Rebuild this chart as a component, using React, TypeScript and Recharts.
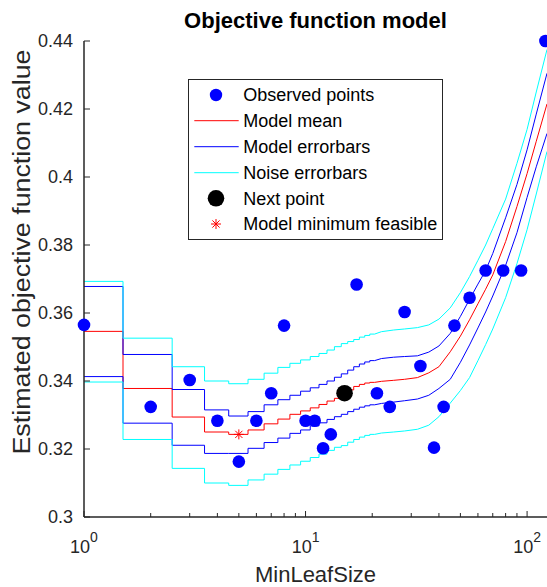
import React from 'react';
import { ComposedChart, Line, Scatter, XAxis, YAxis } from 'recharts';

const FONT = '"Liberation Sans", Arial, Helvetica, sans-serif';
const INK = '#262626';

// ---- model curves: integer MinLeafSize region (step-wise) ----
const stepX = [1, 2, 3, 4, 5, 6, 7, 8, 9, 10, 11, 12, 13, 14, 15, 16, 17, 18, 19, 20];
const stepMean = [0.3546, 0.3378, 0.3294, 0.325, 0.3243, 0.3256, 0.3274, 0.3288, 0.3302, 0.3312, 0.3321, 0.3331, 0.3341, 0.3349, 0.3362, 0.3374, 0.3384, 0.339, 0.3394, 0.3396];
const stepModelHi = [0.3678, 0.3478, 0.3375, 0.3315, 0.3297, 0.331, 0.333, 0.3345, 0.3358, 0.337, 0.338, 0.339, 0.34, 0.3411, 0.3421, 0.3432, 0.3442, 0.345, 0.3456, 0.346];
const stepModelLo = [0.3413, 0.3276, 0.3211, 0.3187, 0.3187, 0.3202, 0.3219, 0.3232, 0.3246, 0.3256, 0.3268, 0.3277, 0.3287, 0.3295, 0.3302, 0.331, 0.3317, 0.3323, 0.3327, 0.333];
const stepNoiseHi = [0.3693, 0.3526, 0.3442, 0.34, 0.3392, 0.3405, 0.3423, 0.344, 0.3452, 0.3462, 0.3472, 0.3481, 0.3491, 0.3501, 0.351, 0.3516, 0.3522, 0.3529, 0.3534, 0.3538];
const stepNoiseLo = [0.3397, 0.3228, 0.3143, 0.31, 0.3093, 0.3109, 0.3126, 0.314, 0.3153, 0.3164, 0.3175, 0.3185, 0.3196, 0.3205, 0.321, 0.322, 0.3228, 0.3235, 0.324, 0.3243];

// ---- model curves: smooth region ----
const knotX = [22, 25, 28, 32, 36, 40, 45, 50, 55, 60, 65, 70, 80, 90, 100, 110, 123];
const knotMean = [0.3399, 0.3402, 0.3405, 0.341, 0.3424, 0.3442, 0.3486, 0.3532, 0.358, 0.3627, 0.367, 0.3712, 0.381, 0.3913, 0.401, 0.4105, 0.4215];
const knotModelHi = [0.3466, 0.347, 0.3472, 0.3474, 0.3485, 0.3503, 0.354, 0.359, 0.364, 0.3685, 0.3725, 0.3775, 0.388, 0.3978, 0.408, 0.4185, 0.4305];
const knotModelLo = [0.3334, 0.3338, 0.3342, 0.3347, 0.3358, 0.3378, 0.3405, 0.3455, 0.3506, 0.3556, 0.3603, 0.365, 0.374, 0.3836, 0.394, 0.403, 0.4128];
const knotNoiseHi = [0.3545, 0.355, 0.3553, 0.3557, 0.3565, 0.3582, 0.3615, 0.366, 0.3707, 0.3755, 0.38, 0.3848, 0.3935, 0.404, 0.414, 0.425, 0.4375];
const knotNoiseLo = [0.3247, 0.325, 0.3253, 0.3258, 0.327, 0.3295, 0.3335, 0.3372, 0.341, 0.346, 0.3507, 0.3553, 0.3645, 0.3745, 0.3845, 0.395, 0.4075];

// ---- observed points ----
const obsX = [1, 2, 3, 4, 5, 6, 7, 8, 10, 11, 12, 13, 17, 21, 24, 28, 33, 38, 42, 47, 55, 65, 78, 94, 121];
const obsY = [0.3565, 0.3324, 0.3403, 0.3283, 0.3163, 0.3283, 0.3364, 0.3563, 0.3283, 0.3283, 0.3202, 0.3243, 0.3684, 0.3364, 0.3324, 0.3603, 0.3444, 0.3204, 0.3324, 0.3563, 0.3645, 0.3725, 0.3725, 0.3725, 0.44];
const nextX = [15];
const nextY = [0.3364];
const minX = [5];
const minY = [0.3243];

const xTicks = [1, 2, 3, 4, 5, 6, 7, 8, 9, 10, 20, 30, 40, 50, 60, 70, 80, 90, 100];
const yTicks = [0.3, 0.32, 0.34, 0.36, 0.38, 0.4, 0.42, 0.44];
const legendLabels = ['Observed points', 'Model mean', 'Model errorbars', 'Noise errorbars', 'Next point', 'Model minimum feasible'];

// ---- build tables ----
const curveRows: any[] = [];
stepX.forEach((n, i) => {
  const v = { mean: stepMean[i], mHi: stepModelHi[i], mLo: stepModelLo[i], nHi: stepNoiseHi[i], nLo: stepNoiseLo[i] };
  curveRows.push({ x: i === 0 ? n : n - 0.5, ...v });
  curveRows.push({ x: n + 0.5, ...v });
});
knotX.forEach((x, i) => {
  curveRows.push({ x, mean: knotMean[i], mHi: knotModelHi[i], mLo: knotModelLo[i], nHi: knotNoiseHi[i], nLo: knotNoiseLo[i] });
});
const obsRows = obsX.map((x, i) => ({ x, y: obsY[i] }));
const nextRows = nextX.map((x, i) => ({ x, y: nextY[i] }));
const minRows = minX.map((x, i) => ({ x, y: minY[i] }));

const W = 547;
const H = 587;
const LEFT = 84;
const TOP = 41;
const BOTTOM = 517;

const StarMark = ({ cx, cy, s = 5 }: any) => {
  const d = s * 0.72;
  return (
    <g stroke="#ff0000" strokeWidth={1}>
      <line x1={cx - s} y1={cy} x2={cx + s} y2={cy} />
      <line x1={cx} y1={cy - s} x2={cx} y2={cy + s} />
      <line x1={cx - d} y1={cy - d} x2={cx + d} y2={cy + d} />
      <line x1={cx - d} y1={cy + d} x2={cx + d} y2={cy - d} />
    </g>
  );
};

const XTick = (props: any) => {
  const { x, payload } = props;
  const lg = Math.log10(payload.value);
  const exp = Math.round(lg);
  const major = Math.abs(lg - exp) < 1e-9;
  return (
    <g>
      <line x1={x} x2={x} y1={BOTTOM} y2={BOTTOM - (major ? 6 : 4)} stroke={INK} strokeWidth={1} />
      {major && (
        <text x={x} y={553} textAnchor="middle" fontSize={18} fill={INK} fontFamily={FONT}>
          10<tspan dy={-11} fontSize={14}>{exp}</tspan>
        </text>
      )}
    </g>
  );
};

const YTick = (props: any) => {
  const { y, payload } = props;
  const label = String(Number(payload.value.toFixed(2)));
  return (
    <g>
      <line x1={LEFT} x2={LEFT + 6} y1={y} y2={y} stroke={INK} strokeWidth={1} />
      <text x={73} y={y} dy={6.3} textAnchor="end" fontSize={18} fill={INK} fontFamily={FONT}>
        {label}
      </text>
    </g>
  );
};

const Overlay = () => {
  const rowY = [95, 120.7, 146.7, 172.7, 198.3, 224];
  const sx = 216;
  return (
    <svg width={W} height={H} style={{ position: 'absolute', left: 0, top: 0, pointerEvents: 'none' }}>
      <text x={315.5} y={28} textAnchor="middle" fontSize={22} fontWeight="bold" fill="#000" fontFamily={FONT}>
        Objective function model
      </text>
      <text x={315.5} y={582} textAnchor="middle" fontSize={22} fill={INK} fontFamily={FONT}>
        MinLeafSize
      </text>
      <text
        x={0}
        y={0}
        transform="translate(30, 252) rotate(-90)"
        textAnchor="middle"
        fontSize={23}
        textLength={405}
        lengthAdjust="spacingAndGlyphs"
        fill={INK}
        fontFamily={FONT}
      >
        Estimated objective function value
      </text>
      <rect x={188.5} y={79.5} width={254} height={160} fill="#fff" stroke={INK} strokeWidth={1} />
      <circle cx={sx} cy={rowY[0]} r={6.2} fill="#0000ff" />
      <line x1={194.3} x2={238.7} y1={rowY[1]} y2={rowY[1]} stroke="#ff0000" strokeWidth={1} />
      <line x1={194.3} x2={238.7} y1={rowY[2]} y2={rowY[2]} stroke="#0000ff" strokeWidth={1} />
      <line x1={194.3} x2={238.7} y1={rowY[3]} y2={rowY[3]} stroke="#00ffff" strokeWidth={1} />
      <circle cx={sx} cy={rowY[4]} r={8.3} fill="#000" />
      <StarMark cx={sx} cy={rowY[5]} s={5} />
      {legendLabels.map((t, i) => (
        <text key={t} x={243.3} y={rowY[i]} dy={6.3} fontSize={18} fill="#000" fontFamily={FONT}>
          {t}
        </text>
      ))}
    </svg>
  );
};

export default function App() {
  return (
    <div style={{ position: 'fixed', left: 0, top: 0, width: W, height: H, background: '#fff' }}>
      <ComposedChart width={W} height={H} data={curveRows} margin={{ top: TOP, right: 0, bottom: 0, left: 0 }}>
        <XAxis
          dataKey="x"
          type="number"
          scale="log"
          domain={[1, 123]}
          ticks={xTicks}
          interval={0}
          tick={<XTick />}
          tickLine={false}
          axisLine={{ stroke: INK, strokeWidth: 1.5 }}
          height={H - BOTTOM}
        />
        <YAxis
          type="number"
          scale="linear"
          domain={[0.3, 0.44]}
          ticks={yTicks}
          interval={0}
          tick={<YTick />}
          tickLine={false}
          axisLine={{ stroke: INK, strokeWidth: 1.5 }}
          width={LEFT}
        />
        <Line dataKey="mean" stroke="#ff0000" strokeWidth={1} dot={false} activeDot={false} isAnimationActive={false} />
        <Line dataKey="mHi" stroke="#0000ff" strokeWidth={1} dot={false} activeDot={false} isAnimationActive={false} />
        <Line dataKey="mLo" stroke="#0000ff" strokeWidth={1} dot={false} activeDot={false} isAnimationActive={false} />
        <Line dataKey="nHi" stroke="#00ffff" strokeWidth={1} dot={false} activeDot={false} isAnimationActive={false} />
        <Line dataKey="nLo" stroke="#00ffff" strokeWidth={1} dot={false} activeDot={false} isAnimationActive={false} />
        <Scatter data={obsRows} dataKey="y" isAnimationActive={false} shape={(p: any) => <circle cx={p.cx} cy={p.cy} r={6.3} fill="#0000ff" />} />
        <Scatter data={nextRows} dataKey="y" isAnimationActive={false} shape={(p: any) => <circle cx={p.cx} cy={p.cy} r={8.3} fill="#000" />} />
        <Scatter data={minRows} dataKey="y" isAnimationActive={false} shape={(p: any) => <StarMark cx={p.cx} cy={p.cy} s={5} />} />
      </ComposedChart>
      <Overlay />
    </div>
  );
}
